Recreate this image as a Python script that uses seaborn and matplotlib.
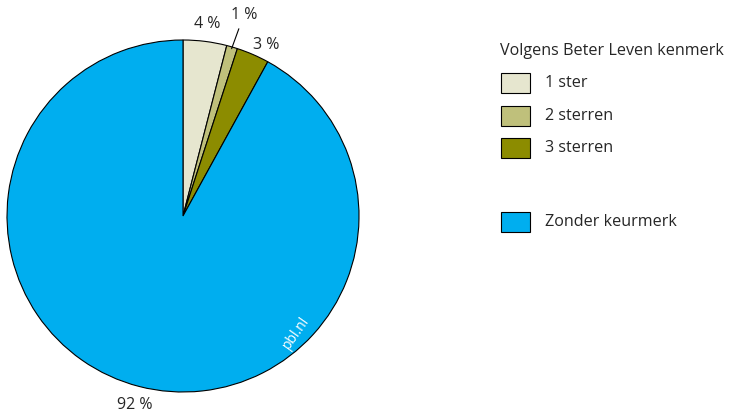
import numpy as np
import matplotlib
matplotlib.use("Agg")
import matplotlib.pyplot as plt
import seaborn as sns
from matplotlib.patches import Rectangle

sns.set_style("white")
plt.rcParams['font.family'] = ['Open Sans', 'DejaVu Sans']

# Data
categories = ["1 ster", "2 sterren", "3 sterren", "Zonder keurmerk"]
shares = [4, 1, 3, 92]
labels = ["4 %", "1 %", "3 %", "92 %"]
colors = ["#e6e6cf", "#bfc07b", "#8c8c00", "#00aeef"]
legend_title = "Volgens Beter Leven kenmerk"

W, H = 731, 419
fig = plt.figure(figsize=(W / 100, H / 100), dpi=100)

# pie axes: centre (183, 216) px, radius 176 px
cx, cy, r = 183, 216, 176
ax = fig.add_axes([(cx - r) / W, (H - cy - r) / H, 2 * r / W, 2 * r / H])
wedges, _ = ax.pie(shares, colors=colors, startangle=90, counterclock=False,
                   radius=1, wedgeprops=dict(edgecolor="black", linewidth=0.8))
ax.set_xlim(-1, 1)
ax.set_ylim(-1, 1)
for sp in ax.spines.values():
    sp.set_visible(False)

# percentage labels (small angle / distance tweaks per label)
tweaks = {"4 %": (0, 1.10), "3 %": (-2.5, 1.08), "92 %": (0, 1.11)}
for w, lab in zip(wedges, labels):
    ang = np.deg2rad((w.theta1 + w.theta2) / 2)
    if lab == "1 %":
        x0, y0 = np.cos(ang), np.sin(ang)
        ax.annotate(lab, xy=(0.99 * x0, 0.99 * y0), xytext=(1.24 * x0, 1.19 * y0),
                    ha="center", va="center", fontsize=11.5, annotation_clip=False,
                    arrowprops=dict(arrowstyle="-", color="black", lw=0.8,
                                    shrinkA=2, shrinkB=0))
    else:
        da, dist = tweaks[lab]
        a = ang + np.deg2rad(da)
        ax.text(dist * np.cos(a), dist * np.sin(a), lab, ha="center",
                va="center", fontsize=11.5, clip_on=False)

# watermark
ax.text(0.64, -0.665, "pbl.nl", color="white", fontsize=10, rotation=55,
        ha="center", va="center")

# legend drawn by hand
fig.text(500 / W, 1 - 51 / H, legend_title, fontsize=11.6, ha="left", va="center")
ys = [83, 116, 148, 222]
for y, c, name in zip(ys, colors, categories):
    fig.patches.append(Rectangle((501 / W, 1 - (y + 10) / H), 29 / W, 20 / H,
                                 facecolor=c, edgecolor="black", linewidth=0.8,
                                 transform=fig.transFigure, figure=fig))
    fig.text(545 / W, 1 - y / H, name, fontsize=11.6, ha="left", va="center")

fig.savefig("out.png", dpi=100)
